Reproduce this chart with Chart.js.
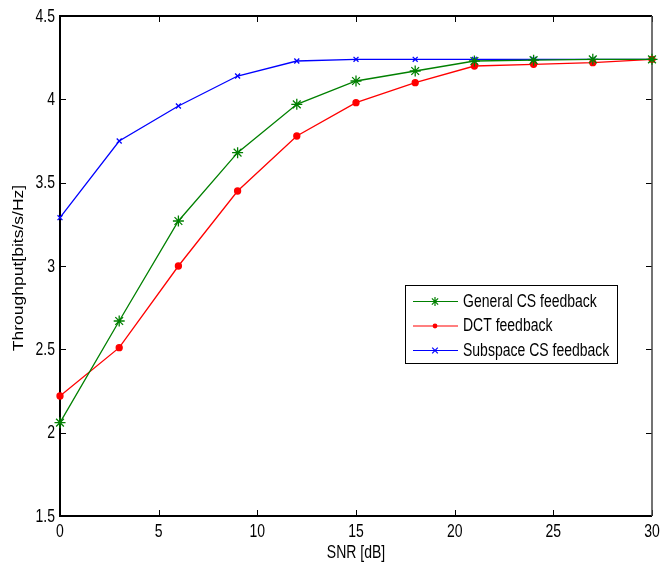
<!DOCTYPE html>
<html>
<head>
  <title>Throughput vs SNR</title>
  <script src="https://cdn.jsdelivr.net/npm/chart.js"></script>
</head>
<body style="margin:0;background:#fff;">
  <canvas id="snrChart" width="661" height="562"></canvas>

  <script>
    // SNR sweep and measured throughput per feedback scheme
    const snr = [0, 3, 6, 9, 12, 15, 18, 21, 24, 27, 30];
    const generalCs = [2.06, 2.67, 3.27, 3.68, 3.97, 4.11, 4.17, 4.23, 4.235, 4.24, 4.24];
    const dct = [2.22, 2.51, 3.00, 3.45, 3.78, 3.98, 4.10, 4.20, 4.21, 4.22, 4.24];
    const subspaceCs = [3.29, 3.75, 3.96, 4.14, 4.23, 4.24, 4.24, 4.24, 4.24, 4.24, 4.24];

    const seriesNames = ['General CS feedback', 'DCT feedback', 'Subspace CS feedback'];
    const xTicks = [0, 5, 10, 15, 20, 25, 30];
    const yTicks = [1.5, 2, 2.5, 3, 3.5, 4, 4.5];
    const xTitle = 'SNR [dB]';
    const yTitle = 'Throughput[bits/s/Hz]';

    const FONT = '14px Arial, "Liberation Sans", sans-serif';
    const STRETCH = 1.25; // text in this figure is a bit taller than it is wide

    function toPoints(ys) {
      return snr.map((x, i) => ({ x, y: ys[i] }));
    }

    function tallText(ctx, text, x, y, align, rotated) {
      ctx.save();
      ctx.translate(x, y);
      if (rotated) {
        ctx.rotate(-Math.PI / 2);
        ctx.scale(STRETCH, 1);
      } else {
        ctx.scale(1, STRETCH);
      }
      ctx.font = FONT;
      ctx.fillStyle = '#000';
      ctx.textAlign = align;
      ctx.textBaseline = 'middle';
      ctx.fillText(text, 0, 0);
      ctx.restore();
    }

    // matlab-ish marker drawing, used by the legend
    function drawMarker(ctx, style, x, y, r, color) {
      ctx.save();
      ctx.strokeStyle = color;
      ctx.fillStyle = color;
      ctx.lineWidth = 1.2;
      ctx.beginPath();
      if (style === 'circle') {
        ctx.arc(x, y, r, 0, Math.PI * 2);
        ctx.fill();
      } else if (style === 'crossRot') {
        ctx.moveTo(x - r, y - r); ctx.lineTo(x + r, y + r);
        ctx.moveTo(x - r, y + r); ctx.lineTo(x + r, y - r);
        ctx.stroke();
      } else {
        const d = r * 0.7071;
        ctx.moveTo(x, y - r); ctx.lineTo(x, y + r);
        ctx.moveTo(x - r, y); ctx.lineTo(x + r, y);
        ctx.moveTo(x - d, y - d); ctx.lineTo(x + d, y + d);
        ctx.moveTo(x - d, y + d); ctx.lineTo(x + d, y - d);
        ctx.stroke();
      }
      ctx.restore();
    }

    // axes box with inward ticks on all four sides, plus labels and titles
    const boxPlugin = {
      id: 'box',
      beforeDatasetsDraw(chart) {
        const { ctx, chartArea: a, scales } = chart;
        ctx.save();
        ctx.strokeStyle = '#000';
        ctx.lineWidth = 1;
        ctx.beginPath();
        scales.x.ticks.forEach(t => {
          const px = Math.round(scales.x.getPixelForValue(t.value)) + 0.5;
          ctx.moveTo(px, a.bottom); ctx.lineTo(px, a.bottom - 6);
          ctx.moveTo(px, a.top); ctx.lineTo(px, a.top + 6);
        });
        scales.y.ticks.forEach(t => {
          const py = Math.round(scales.y.getPixelForValue(t.value)) + 0.5;
          ctx.moveTo(a.left, py); ctx.lineTo(a.left + 6, py);
          ctx.moveTo(a.right, py); ctx.lineTo(a.right - 6, py);
        });
        ctx.stroke();

        ctx.lineWidth = 2;
        ctx.beginPath();
        ctx.moveTo(a.right, a.top);
        ctx.lineTo(a.left, a.top);
        ctx.lineTo(a.left, a.bottom);
        ctx.lineTo(a.right, a.bottom);
        ctx.stroke();
        ctx.strokeStyle = '#444';
        ctx.lineWidth = 1.5;
        ctx.beginPath();
        ctx.moveTo(a.right, a.top);
        ctx.lineTo(a.right, a.bottom);
        ctx.stroke();
        ctx.restore();

        scales.x.ticks.forEach(t => {
          tallText(ctx, String(t.value), scales.x.getPixelForValue(t.value), a.bottom + 16, 'center', false);
        });
        scales.y.ticks.forEach(t => {
          tallText(ctx, String(t.value), a.left - 5, scales.y.getPixelForValue(t.value) + 1, 'right', false);
        });
        tallText(ctx, xTitle, (a.left + a.right) / 2, a.bottom + 37, 'center', false);
        tallText(ctx, yTitle, 19, (a.top + a.bottom) / 2 + 2, 'center', true);
      }
    };

    const legendPlugin = {
      id: 'boxLegend',
      afterDraw(chart) {
        const { ctx } = chart;
        const x0 = 405, y0 = 285, w = 212, h = 78;
        ctx.save();
        ctx.fillStyle = '#fff';
        ctx.fillRect(x0, y0, w, h);
        ctx.strokeStyle = '#000';
        ctx.lineWidth = 1;
        ctx.strokeRect(x0 + 0.5, y0 + 0.5, w, h);
        chart.data.datasets.forEach((ds, i) => {
          const y = y0 + 16 + i * 24.5;
          ctx.strokeStyle = ds.borderColor;
          ctx.lineWidth = 1.2;
          ctx.beginPath();
          ctx.moveTo(x0 + 8, y + 0.5);
          ctx.lineTo(x0 + 53, y + 0.5);
          ctx.stroke();
          drawMarker(ctx, ds.pointStyle, x0 + 30, y + 0.5, ds.pointRadius * 0.8, ds.borderColor);
          tallText(ctx, ds.label, x0 + 58, y + 1, 'left', false);
        });
        ctx.restore();
      }
    };

    function series(label, ys, color, style, radius) {
      return {
        label,
        data: toPoints(ys),
        borderColor: color,
        backgroundColor: color,
        borderWidth: 1.3,
        pointStyle: style,
        pointRadius: radius,
        pointBorderWidth: 1.3,
        pointHoverRadius: radius,
        tension: 0,
        clip: false
      };
    }

    new Chart(document.getElementById('snrChart'), {
      type: 'line',
      data: {
        datasets: [
          series(seriesNames[0], generalCs, '#008000', 'star', 5.5),
          series(seriesNames[1], dct, '#ff0000', 'circle', 3),
          series(seriesNames[2], subspaceCs, '#0000ff', 'crossRot', 3.5)
        ]
      },
      options: {
        responsive: false,
        animation: false,
        layout: { padding: { left: 0, right: 9, top: 16, bottom: 0 } },
        plugins: {
          legend: { display: false },
          tooltip: { enabled: false }
        },
        scales: {
          x: {
            type: 'linear',
            min: 0,
            max: 30,
            afterBuildTicks: s => { s.ticks = xTicks.map(v => ({ value: v })); },
            afterFit: s => { s.height = 46; s.paddingLeft = 0; s.paddingRight = 0; },
            grid: { display: false, drawTicks: false },
            border: { display: false },
            ticks: { display: false }
          },
          y: {
            min: 1.5,
            max: 4.5,
            afterBuildTicks: s => { s.ticks = yTicks.map(v => ({ value: v })); },
            afterFit: s => { s.width = 60; s.paddingTop = 0; s.paddingBottom = 0; },
            grid: { display: false, drawTicks: false },
            border: { display: false },
            ticks: { display: false }
          }
        }
      },
      plugins: [boxPlugin, legendPlugin]
    });
  </script>
</body>
</html>
